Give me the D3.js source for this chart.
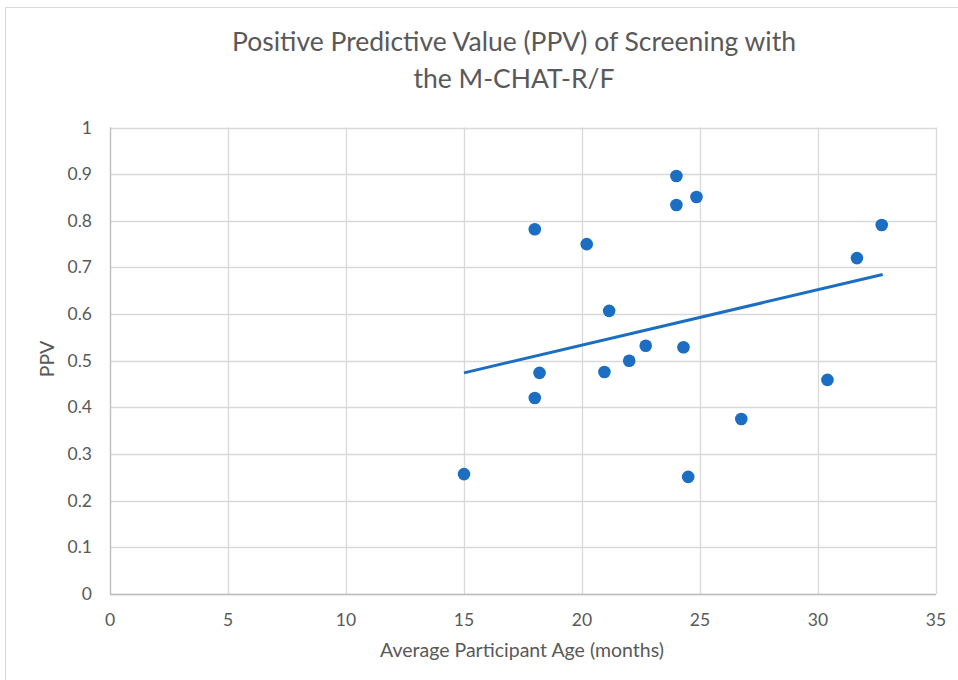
<!DOCTYPE html>
<html>
<head>
<meta charset="utf-8">
<script src="https://cdn.jsdelivr.net/npm/d3@7"></script>
<style>
  body { margin: 0; background: #fff; }
  text { font-family: Lato, "Open Sans", sans-serif; fill: #595959; }
</style>
</head>
<body>
<script>
// data
const ages = [15, 18, 18, 18.2, 20.2, 20.95, 21.15, 22.0, 22.7, 24.0, 24.0, 24.3, 24.85, 24.5, 26.75, 30.4, 31.65, 32.7];
const ppv = [0.257, 0.42, 0.782, 0.474, 0.75, 0.476, 0.607, 0.50, 0.532, 0.896, 0.834, 0.529, 0.851, 0.251, 0.375, 0.459, 0.72, 0.791];
const trendX = [15, 32.74];
const trendY = [0.474, 0.685];
const xTicks = [0, 5, 10, 15, 20, 25, 30, 35];
const yTicks = [0, 0.1, 0.2, 0.3, 0.4, 0.5, 0.6, 0.7, 0.8, 0.9, 1];
const titleLines = ['Positive Predictive Value (PPV) of Screening with', 'the M-CHAT-R/F'];

const width = 958, height = 680;
const margin = {left: 110, right: 22, top: 127.5, bottom: 86};

const svg = d3.select('body')
  .append('svg')
  .attr('width', width)
  .attr('height', height);

// chart frame
svg.append('rect')
  .attr('x', 5.5).attr('y', 7.5)
  .attr('width', width + 20).attr('height', height + 20)
  .attr('fill', 'none')
  .attr('stroke', '#d9d9d9');

const x = d3.scaleLinear().domain([0, 35]).range([margin.left, width - margin.right]);
const y = d3.scaleLinear().domain([0, 1]).range([height - margin.bottom, margin.top]);

// gridlines
svg.append('g')
  .selectAll('line')
  .data(yTicks)
  .join('line')
  .attr('x1', x(0)).attr('x2', x(35))
  .attr('y1', d => Math.round(y(d)) + 0.5).attr('y2', d => Math.round(y(d)) + 0.5)
  .attr('stroke', '#d9d9d9')
  .attr('stroke-width', 1.3);

svg.append('g')
  .selectAll('line')
  .data(xTicks)
  .join('line')
  .attr('x1', d => Math.round(x(d)) + 0.5).attr('x2', d => Math.round(x(d)) + 0.5)
  .attr('y1', y(0)).attr('y2', y(1))
  .attr('stroke', '#d9d9d9')
  .attr('stroke-width', 1.3);

// axis lines
svg.append('line')
  .attr('x1', x(0)).attr('x2', x(35))
  .attr('y1', Math.round(y(0)) + 0.5).attr('y2', Math.round(y(0)) + 0.5)
  .attr('stroke', '#bfbfbf').attr('stroke-width', 1.3);
svg.append('line')
  .attr('x1', Math.round(x(0)) + 0.5).attr('x2', Math.round(x(0)) + 0.5)
  .attr('y1', y(0)).attr('y2', y(1))
  .attr('stroke', '#bfbfbf').attr('stroke-width', 1.3);

// tick labels
svg.append('g')
  .selectAll('text')
  .data(yTicks)
  .join('text')
  .attr('x', 92)
  .attr('y', d => y(d) + 6)
  .attr('text-anchor', 'end')
  .attr('font-size', 17.5)
  .text(d => d3.format('~g')(d));

svg.append('g')
  .selectAll('text')
  .data(xTicks)
  .join('text')
  .attr('x', d => x(d))
  .attr('y', 626)
  .attr('text-anchor', 'middle')
  .attr('font-size', 17.5)
  .text(d => d);

// trendline
const trend = trendX.map((d, i) => [d, trendY[i]]);
svg.append('path')
  .datum(trend)
  .attr('d', d3.line().x(d => x(d[0])).y(d => y(d[1])))
  .attr('stroke', '#1b6ec2')
  .attr('stroke-width', 3)
  .attr('fill', 'none');

// points
svg.append('g')
  .selectAll('circle')
  .data(ages.map((d, i) => [d, ppv[i]]))
  .join('circle')
  .attr('cx', d => x(d[0]))
  .attr('cy', d => y(d[1]))
  .attr('r', 6.3)
  .attr('fill', '#1b6ec2');

// titles
svg.append('g')
  .selectAll('text')
  .data(titleLines)
  .join('text')
  .attr('x', 514)
  .attr('y', (d, i) => 51 + i * 37)
  .attr('text-anchor', 'middle')
  .attr('font-size', 26.5)
  .text(d => d);

svg.append('text')
  .attr('x', 522)
  .attr('y', 657)
  .attr('text-anchor', 'middle')
  .attr('font-size', 19.5)
  .text('Average Participant Age (months)');

svg.append('text')
  .attr('transform', 'translate(54,359) rotate(-90)')
  .attr('text-anchor', 'middle')
  .attr('font-size', 19.5)
  .text('PPV');
</script>
</body>
</html>
